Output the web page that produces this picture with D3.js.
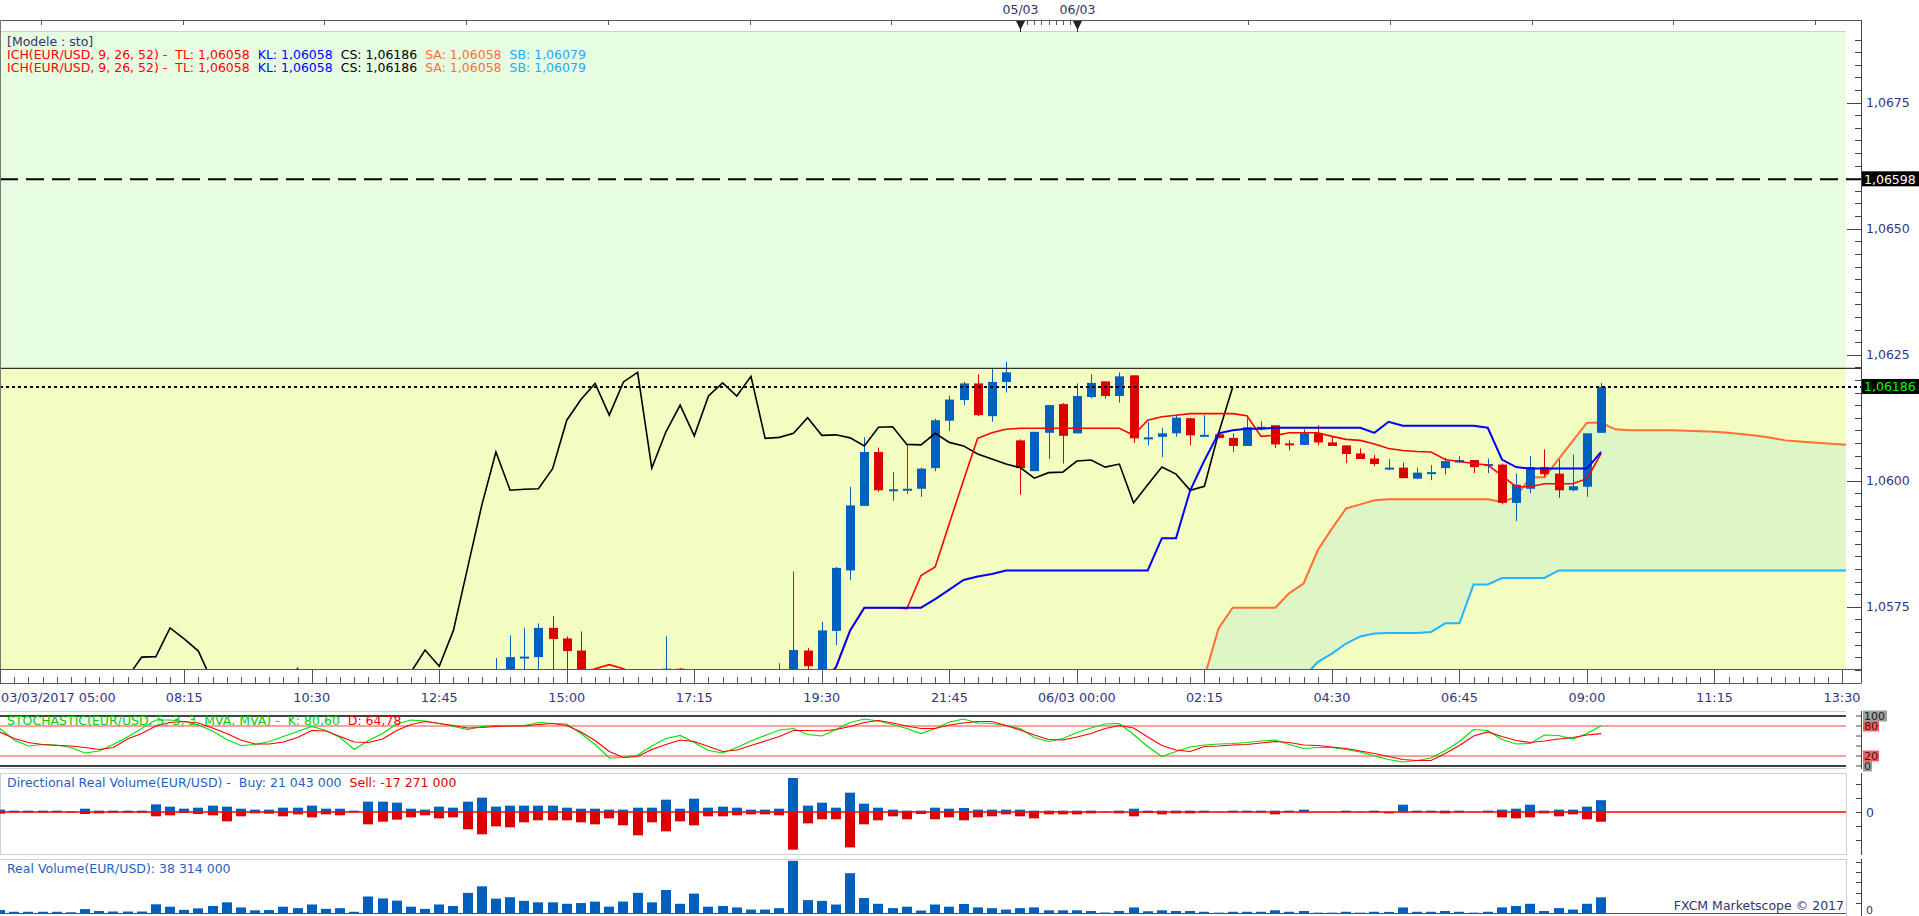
<!DOCTYPE html>
<html>
<head>
<meta charset="utf-8">
<script src="https://cdn.jsdelivr.net/npm/d3@7"></script>
<style>
  body { margin: 0; background: #fff; overflow: hidden; }
  svg { display: block; font-family: "DejaVu Sans", Verdana, sans-serif; }
  text { white-space: pre; }
</style>
</head>
<body>
<svg id="chart" width="1919" height="916"></svg>
<script>
// EUR/USD m15

// candles, bar index firstBar .. 113
const firstBar = 35;
const barOpen = [1.0556,1.0561,1.0565,1.0565,1.05708,1.05687,1.05663,1.05627,1.0555,1.0556,
  1.0553,1.0557,1.0559,1.05627,1.0558,1.0555,1.0558,1.0560,1.0557,1.0559,
  1.0561,1.0562,1.05663,1.0562,1.05702,1.05822,1.0595,1.06057,1.05982,1.05982,
  1.05984,1.06025,1.06119,1.0616,1.06193,1.06128,1.06196,1.0608,1.06019,1.06095,
  1.06152,1.06094,1.06166,1.06197,1.06168,1.06209,1.06085,1.06087,1.06094,1.06124,
  1.0609,1.06092,1.06085,1.06069,1.06106,1.0611,1.06074,1.06071,1.06094,1.06076,
  1.0607,1.06054,1.06044,1.06025,1.06026,1.06004,1.06016,1.06025,1.06036,1.06041,
  1.06032,1.06032,1.05956,1.05984,1.06027,1.06014,1.05981,1.05988,1.06095];
const barHigh = [1.05648,1.05693,1.05708,1.05717,1.05731,1.05691,1.05701,1.05628,1.0560,1.0561,
  1.0559,1.0561,1.05691,1.05628,1.0561,1.0560,1.0562,1.0562,1.0561,1.0562,
  1.05638,1.0582,1.05668,1.0572,1.05829,1.05988,1.06086,1.06066,1.06017,1.06072,
  1.06026,1.06123,1.06169,1.06196,1.06211,1.06223,1.06236,1.06082,1.06097,1.0615,
  1.06154,1.06193,1.06211,1.06197,1.06215,1.06209,1.06117,1.06105,1.0613,1.06125,
  1.0613,1.061,1.06094,1.06124,1.06118,1.0611,1.0608,1.06102,1.0611,1.06088,
  1.0607,1.06064,1.06051,1.06043,1.06036,1.06026,1.06031,1.06046,1.06049,1.06041,
  1.06044,1.06034,1.06014,1.06049,1.06062,1.06042,1.06052,1.06094,1.06194];
const barLow = [1.0554,1.0559,1.0560,1.0560,1.0560,1.0559,1.0556,1.0553,1.0550,1.0551,
  1.0549,1.0552,1.0555,1.0555,1.0553,1.0552,1.0554,1.0555,1.0554,1.0556,
  1.0558,1.0558,1.0559,1.0559,1.05674,1.05803,1.0595,1.05978,1.0596,1.05974,
  1.05968,1.06019,1.06099,1.0615,1.06128,1.06117,1.06175,1.05972,1.06019,1.06043,
  1.06034,1.06094,1.06163,1.06163,1.06155,1.06075,1.0607,1.06047,1.06087,1.0607,
  1.06088,1.06084,1.06057,1.06069,1.061,1.06065,1.0606,1.06071,1.0607,1.06069,
  1.06035,1.06043,1.06029,1.06021,1.06005,1.06003,1.06001,1.06012,1.06036,1.06015,
  1.06015,1.05953,1.0592,1.05975,1.06008,1.05966,1.05979,1.05968,1.06095];
const barClose = [1.0561,1.0565,1.05651,1.05708,1.05686,1.05662,1.0560,1.0555,1.0556,1.0553,
  1.0557,1.0559,1.05627,1.0558,1.0555,1.0558,1.0560,1.0557,1.0559,1.0561,
  1.0562,1.05664,1.05632,1.05703,1.05827,1.05951,1.06057,1.05981,1.05983,1.05984,
  1.06024,1.0612,1.06161,1.06193,1.0613,1.06196,1.06215,1.06025,1.06097,1.0615,
  1.06089,1.06168,1.06194,1.06168,1.06207,1.06084,1.06086,1.06094,1.06125,1.0609,
  1.06091,1.06085,1.06069,1.06106,1.06107,1.06072,1.06071,1.06094,1.06076,1.06069,
  1.06053,1.06043,1.06033,1.06026,1.06005,1.06016,1.06017,1.06039,1.06041,1.06027,
  1.06033,1.05956,1.05992,1.06027,1.06013,1.05981,1.05989,1.06094,1.06186];

// ichimoku lines (tenkan from bar 41, kijun from 57, senkou spans from 84, shifted)
const tenkanStart = 41;
const tenkan = [1.0561,1.05627,1.05635,1.05627,1.0561,1.0560,1.0559,1.0559,1.0558,1.0558,
  1.0558,1.0558,1.0559,1.0559,1.0560,1.0560,1.0557,1.0560,1.0563,1.05703,
  1.05748,1.05748,1.05748,1.05746,1.05812,1.05829,1.05915,1.06001,1.06084,1.06095,
  1.06102,1.06104,1.06104,1.06104,1.06104,1.06104,1.06104,1.06104,1.06104,1.0609,
  1.0612,1.06127,1.0613,1.06133,1.06133,1.06133,1.06133,1.06129,1.06088,1.0609,
  1.06095,1.06095,1.06095,1.06088,1.06082,1.0608,1.06073,1.06064,1.0606,1.06058,
  1.06057,1.06042,1.06038,1.06034,1.06031,1.0601,1.05988,1.05988,1.05994,1.05994,
  1.05994,1.06004,1.06054];
const kijunStart = 57;
const kijun = [1.0556,1.0560,1.0563,1.05703,1.05748,1.05748,1.05748,1.05748,1.05748,1.05765,
  1.05784,1.05803,1.0581,1.05815,1.05822,1.05822,1.05822,1.05822,1.05822,1.05822,
  1.05822,1.05822,1.05822,1.05822,1.05822,1.05886,1.05886,1.05981,1.0604,1.06094,
  1.061,1.06103,1.06103,1.06105,1.06105,1.06105,1.06105,1.06105,1.06105,1.06105,
  1.06095,1.06117,1.06109,1.06109,1.06109,1.06109,1.06109,1.06109,1.06105,1.06042,
  1.06027,1.06024,1.06024,1.06024,1.06024,1.06024,1.06057];
const spanStart = 84;
const senkouA = [1.0555,1.0561,1.05707,1.05748,1.05748,1.05748,1.05748,1.05777,1.05796,1.05862,
  1.05905,1.05945,1.05953,1.05961,1.05963,1.05963,1.05963,1.05963,1.05963,1.05963,
  1.05963,1.05963,1.05958,1.05968,1.06007,1.06007,1.06043,1.06079,1.06115,1.06115,
  1.06102,1.061,1.061,1.061,1.061,1.06099,1.06098,1.06097,1.06095,1.06092,
  1.06089,1.06085,1.0608,1.06078,1.06076,1.06074,1.06072,1.0607];
const senkouB = [1.0553,1.0554,1.0555,1.0556,1.0557,1.0558,1.0559,1.0560,1.0561,1.0564,
  1.05657,1.05677,1.05691,1.05697,1.05698,1.05698,1.05698,1.057,1.05717,1.05717,
  1.05794,1.05794,1.05807,1.05807,1.05807,1.05807,1.05822,1.05822,1.05822,1.05822,
  1.05822,1.05822,1.05822,1.05822,1.05822,1.05822,1.05822,1.05822,1.05822,1.05822,
  1.05822,1.05822,1.05822,1.05822,1.05822,1.05822,1.05822,1.05822];
const chikouShift = 26;

// model levels
const levelZone = 1.06223;   // border green / yellow zone
const levelDashed = 1.06598;
const lastPrice = 1.06186;

// stochastic 5,3,3 (bars 0..113)
const stochK = [75,52,40,43,42,37,26,30,43,58, 75,92,92,89,82,70,53,41,43,49,
  59,69,79,71,57,33,51,65,84,92, 90,85,79,73,79,81,80,81,87,85,
  84,65,43,16,17,22,40,55,61,47, 31,26,37,50,61,72,75,63,60,73,
  87,94,90,83,75,65,75,88,94,86, 85,81,75,57,49,55,67,76,84,85,
  63,39,19,29,38,42,44,45,47,50, 52,43,35,37,37,33,28,20,13,8,
  11,16,31,49,73,71,53,44,45,62, 61,54,65,80.6];
const stochD = [68,55,47,43,41,40,37,33,37,54, 65,80,87,89,86,76,65,52,44,44,
  48,57,71,70,59,48,47,54,71,83, 89,85,81,76,77,79,80,80,83,85,
  81,68,51,29,17,19,33,43,52,49, 39,29,32,41,50,59,71,71,70,73,
  79,87,91,86,80,75,75,82,86,89, 89,81,72,62,53,52,58,65,75,81,
  76,58,41,32,29,39,40,42,43,46, 49,47,42,41,38,35,30,25,19,13,
  11,11,25,41,60,68,59,51,47,50, 54,57,62,64.78];

// directional real volume, millions (bars 0..113)
const buyVol = [4.2,2.4,2.4,2.4,2.4,1.2,5.9,2.4,2.4,2.4, 2.4,13.6,9.5,5.9,7.7,11.3,9.5,5.9,4.2,4.2,
  7.7,7.7,11.3,5.9,5.9,2.4,18.4,18.4,16.6,5.9, 4.2,9.5,7.7,18.4,25.5,9.5,11.3,11.3,11.3,11.3,
  7.7,5.9,5.9,4.2,4.2,7.7,7.7,21.9,5.9,23.7, 7.7,9.5,7.7,4.2,4.2,5.9,60.5,11.3,16.6,7.7,
  34.4,14.8,7.7,4.2,2.4,2.4,7.7,5.9,7.1,4.2, 4.2,4.2,4.2,2.4,2.4,2.4,2.4,2.4,0.6,2.4,
  5.9,2.4,2.4,2.4,2.4,2.4,0.6,2.4,2.4,2.4, 2.4,2.4,4.2,0.6,0.6,2.4,0.6,2.4,0.3,13.0,
  2.4,2.4,2.4,2.4,0.6,2.4,4.2,5.9,13.0,2.4, 4.2,4.2,9.5,21.0];
const sellVol = [3.0,0.6,0.6,0.6,0.6,0.6,3.6,2.4,1.2,1.2, 1.2,7.7,5.9,1.8,3.6,5.9,16.6,7.7,2.4,3.0,
  7.7,4.2,9.5,4.2,5.9,0.6,21.9,17.2,13.6,9.5, 5.9,11.3,9.5,30.8,39.7,25.5,27.3,18.4,14.8,14.8,
  14.8,18.4,21.9,11.3,23.7,41.5,18.4,34.4,16.6,23.7, 7.7,7.7,5.9,4.2,4.2,5.9,67.0,20.2,13.0,13.0,
  62.9,21.9,14.8,7.7,13.0,3.6,13.0,9.5,14.8,9.5, 7.7,4.2,7.7,11.3,4.2,4.2,4.2,2.4,0.6,2.4,
  7.7,1.8,4.2,2.4,2.4,0.6,0.3,0.6,0.6,0.6, 4.2,0.6,0.6,0.3,0.3,0.6,0.3,0.6,2.4,0.6,
  0.6,0.6,2.4,0.6,0.3,0.6,9.5,11.3,9.5,2.4, 7.7,4.2,13.0,17.3];

// time axis
const tickBars = [0,13,22,31,40,49,58,67,76,85,94,103,112,121,130];
const tickLabels = ["03/03/2017 05:00","08:15","10:30","12:45","15:00","17:15","19:30",
  "21:45","06/03 00:00","02:15","04:30","06:45","09:00","11:15","13:30"];
const dayBars = [72, 76];
const dayLabels = ["05/03", "06/03"];
const topTickBars = [2.9,12.9,22.9,32.9,42.9,52.9,62.9,88.1,98.1,108.1,118.1,128.1];
const priceLabels = [1.0575, 1.06, 1.0625, 1.065, 1.0675];

// ---------------------------------------------------------------
const plotR = 1846, axisX = 1861;
const mainTop = 32, mainBot = 669.5;
const blue = "#0060c0", red = "#dd0000", axisText = "#333388";
const titleSize = 12.5;

const svg = d3.select("#chart");
const x = d3.scaleLinear().domain([0, 130]).range([0, 1842]);
const y = d3.scaleLinear().domain([1.06, 1.0625]).range([480.7, 354.7]);
const yStoch = d3.scaleLinear().domain([0, 100]).range([766, 716]);
const yDir = d3.scaleLinear().domain([-72, 72]).range([852.5, 771.5]);
const yReal = d3.scaleLinear().domain([0, 132]).range([913, 859]);
const fmtPrice = d => d3.format(".4f")(d).replace(".", ",");
const fmtPrice5 = d => d3.format(".5f")(d).replace(".", ",");

const defs = svg.append("defs");
defs.append("clipPath").attr("id", "clipMain")
  .append("rect").attr("x", 0).attr("y", mainTop).attr("width", plotR).attr("height", mainBot - mainTop);

// ---- main price panel ----
const main = svg.append("g").attr("clip-path", "url(#clipMain)");
main.append("rect").attr("x", 0).attr("y", mainTop).attr("width", plotR)
  .attr("height", y(levelZone) - mainTop).attr("fill", "#e6fde2");
main.append("rect").attr("x", 0).attr("y", y(levelZone)).attr("width", plotR)
  .attr("height", mainBot - y(levelZone)).attr("fill", "#f3fdc1");

const spans = senkouA.map((a, k) => ({ i: spanStart + k, a: a, b: senkouB[k] }));
main.append("path").datum(spans)
  .attr("fill", "#def6c6")
  .attr("d", d3.area().x(d => x(d.i)).y0(d => y(d.b)).y1(d => y(d.a)));

const line = d3.line().x(d => x(d.i)).y(d => y(d.v));
const series = (arr, start) => arr.map((v, k) => ({ i: start + k, v: v }));

main.append("path").datum(series(senkouB, spanStart))
  .attr("fill", "none").attr("stroke", "#22b4ff").attr("stroke-width", 2).attr("d", line);
main.append("path").datum(series(senkouA, spanStart))
  .attr("fill", "none").attr("stroke", "#ff6f30").attr("stroke-width", 2).attr("d", line);

// candles
const bars = barOpen.map((o, k) => ({
  i: firstBar + k, o: o, h: barHigh[k], l: barLow[k], c: barClose[k]
}));
const cg = main.append("g");
cg.selectAll("line.wick").data(bars).enter().append("line")
  .attr("x1", d => Math.round(x(d.i)) + 0.5).attr("x2", d => Math.round(x(d.i)) + 0.5)
  .attr("y1", d => y(d.h)).attr("y2", d => y(d.l))
  .attr("stroke", d => d.c >= d.o ? blue : red).attr("stroke-width", 1);
cg.selectAll("rect.body").data(bars).enter().append("rect")
  .attr("x", d => Math.round(x(d.i)) - 4).attr("width", 9)
  .attr("y", d => Math.min(y(d.o), y(d.c)))
  .attr("height", d => Math.max(2, Math.abs(y(d.o) - y(d.c))))
  .attr("fill", d => d.c >= d.o ? blue : red);

// chikou span = close drawn 26 bars back
main.append("path").datum(bars.map(d => ({ i: d.i - chikouShift, v: d.c })))
  .attr("fill", "none").attr("stroke", "#000").attr("stroke-width", 1.6).attr("d", line);
main.append("path").datum(series(tenkan, tenkanStart))
  .attr("fill", "none").attr("stroke", "#ff0000").attr("stroke-width", 1.6).attr("d", line);
main.append("path").datum(series(kijun, kijunStart))
  .attr("fill", "none").attr("stroke", "#0000ff").attr("stroke-width", 2).attr("d", line);

// horizontal model lines
svg.append("line").attr("x1", 0).attr("x2", axisX).attr("y1", y(levelZone)).attr("y2", y(levelZone))
  .attr("stroke", "#000").attr("stroke-width", 1);
svg.append("line").attr("x1", 0).attr("x2", axisX).attr("y1", y(levelDashed)).attr("y2", y(levelDashed))
  .attr("stroke", "#000").attr("stroke-width", 2).attr("stroke-dasharray", "18,8");
svg.append("line").attr("x1", 0).attr("x2", axisX).attr("y1", y(lastPrice)).attr("y2", y(lastPrice))
  .attr("stroke", "#000").attr("stroke-width", 2).attr("stroke-dasharray", "3,3");

// legend
const leg = svg.append("g").attr("font-size", titleSize);
leg.append("text").attr("x", 7).attr("y", 45.5).attr("fill", "#333366").text("[Modele : sto]");
[59, 72].forEach(ty => {
  const t = leg.append("text").attr("x", 7).attr("y", ty);
  t.append("tspan").attr("fill", "#ff0000").text("ICH(EUR/USD, 9, 26, 52) -  TL: 1,06058  ");
  t.append("tspan").attr("fill", "#0000ff").text("KL: 1,06058  ");
  t.append("tspan").attr("fill", "#000").text("CS: 1,06186  ");
  t.append("tspan").attr("fill", "#ff6f30").text("SA: 1,06058  ");
  t.append("tspan").attr("fill", "#22aaff").text("SB: 1,06079");
});

// top strip
svg.append("line").attr("x1", 0).attr("x2", axisX).attr("y1", 20.5).attr("y2", 20.5).attr("stroke", "#555");
svg.append("line").attr("x1", 0).attr("x2", plotR).attr("y1", mainTop - 0.5).attr("y2", mainTop - 0.5).attr("stroke", "#c8d0e0");
svg.append("line").attr("x1", 0.5).attr("x2", 0.5).attr("y1", 20).attr("y2", 683).attr("stroke", "#777");
svg.selectAll("line.toptick").data(topTickBars).enter().append("line")
  .attr("x1", d => Math.round(x(d)) + 0.5).attr("x2", d => Math.round(x(d)) + 0.5)
  .attr("y1", 20).attr("y2", 25).attr("stroke", "#555");
svg.selectAll("line.daytick").data(d3.range(dayBars[0] + 0.5, dayBars[1], 0.5)).enter().append("line")
  .attr("x1", d => Math.round(x(d)) + 0.5).attr("x2", d => Math.round(x(d)) + 0.5)
  .attr("y1", 20).attr("y2", 25).attr("stroke", "#555");
dayBars.forEach((b, k) => {
  const cx = Math.round(x(b)) + 0.5;
  svg.append("path").attr("d", `M${cx - 4.5},21 L${cx + 4.5},21 L${cx},30 Z`).attr("fill", "#222");
  svg.append("line").attr("x1", cx).attr("x2", cx).attr("y1", 28).attr("y2", 32).attr("stroke", "#222");
  svg.append("text").attr("x", cx).attr("y", 14).attr("text-anchor", "middle")
    .attr("font-size", 12.5).attr("fill", "#333366").text(dayLabels[k]);
});

// time axis band
svg.append("line").attr("x1", 0).attr("x2", axisX).attr("y1", 669.5).attr("y2", 669.5).attr("stroke", "#555");
svg.append("line").attr("x1", 0).attr("x2", axisX).attr("y1", 683.5).attr("y2", 683.5).attr("stroke", "#555");
svg.selectAll("line.minor").data(d3.range(0, 131)).enter().append("line")
  .attr("x1", d => Math.round(x(d)) + 0.5).attr("x2", d => Math.round(x(d)) + 0.5)
  .attr("y1", 677).attr("y2", 683).attr("stroke", "#555");
svg.selectAll("line.major").data(tickBars).enter().append("line")
  .attr("x1", d => Math.round(x(d)) + 0.5).attr("x2", d => Math.round(x(d)) + 0.5)
  .attr("y1", 670).attr("y2", 683).attr("stroke", "#555");
svg.selectAll("text.tick").data(tickBars).enter().append("text")
  .attr("x", (d, k) => k === 0 ? 1 : x(d))
  .attr("y", 701.5).attr("text-anchor", (d, k) => k === 0 ? "start" : "middle")
  .attr("font-size", 12.8).attr("fill", axisText).text((d, k) => tickLabels[k]);

// right price axis
svg.append("line").attr("x1", axisX + 0.5).attr("x2", axisX + 0.5).attr("y1", 20).attr("y2", 683.5).attr("stroke", "#444");
const priceTicks = d3.range(4225, 4276).map(k => ({ p: k * 0.00025, major: k % 10 === 0 }));
svg.selectAll("line.ptick").data(priceTicks).enter().append("line")
  .attr("x1", d => d.major ? axisX - 14 : axisX - 6).attr("x2", axisX)
  .attr("y1", d => Math.round(y(d.p)) + 0.5).attr("y2", d => Math.round(y(d.p)) + 0.5)
  .attr("stroke", "#444");
svg.selectAll("text.plabel").data(priceLabels).enter().append("text")
  .attr("x", axisX + 5).attr("y", d => y(d) + 4.5)
  .attr("font-size", 12.5).attr("fill", axisText).text(fmtPrice);
[[levelDashed, "#fff"], [lastPrice, "#00ff00"]].forEach(([p, col]) => {
  svg.append("rect").attr("x", axisX + 1).attr("y", y(p) - 8).attr("width", 1919 - axisX).attr("height", 15).attr("fill", "#000");
  svg.append("text").attr("x", axisX + 3).attr("y", y(p) + 4.5).attr("font-size", 12.5).attr("fill", col).text(fmtPrice5(p));
});

// ---- stochastic panel ----
const panelLine = "#c8d0dc";
[711.5, 768.5].forEach(py => svg.append("line").attr("x1", 0).attr("x2", plotR).attr("y1", py).attr("y2", py).attr("stroke", panelLine));
[0, 100].forEach(v => svg.append("line").attr("x1", 0).attr("x2", plotR).attr("y1", yStoch(v)).attr("y2", yStoch(v)).attr("stroke", "#000").attr("stroke-width", 1.5));
[20, 80].forEach(v => svg.append("line").attr("x1", 0).attr("x2", plotR).attr("y1", yStoch(v)).attr("y2", yStoch(v)).attr("stroke", "#ff4040"));
const sLine = d3.line().x((d, k) => x(k)).y(d => yStoch(d));
svg.append("path").datum(stochK).attr("fill", "none").attr("stroke", "#00e000").attr("stroke-width", 1.2).attr("d", sLine);
svg.append("path").datum(stochD).attr("fill", "none").attr("stroke", "#ff0000").attr("stroke-width", 1.2).attr("d", sLine);
const st = svg.append("text").attr("x", 7).attr("y", 724.5).attr("font-size", titleSize);
st.append("tspan").attr("fill", "#00cc00").text("STOCHASTIC(EUR/USD, 5, 3, 3, MVA, MVA) -  K: 80,60  ");
st.append("tspan").attr("fill", "#ff0000").text("D: 64,78");
svg.append("line").attr("x1", axisX + 0.5).attr("x2", axisX + 0.5).attr("y1", 711).attr("y2", 769).attr("stroke", "#444");
svg.selectAll("line.stick").data([0, 20, 40, 60, 80, 100]).enter().append("line")
  .attr("x1", axisX - 5).attr("x2", axisX).attr("y1", d => yStoch(d)).attr("y2", d => yStoch(d)).attr("stroke", "#444");
[[80, "#ff5c5c"], [100, "#a0a0a0"], [0, "#a0a0a0"], [20, "#ff5c5c"]].forEach(([v, bg]) => {
  const w = v === 100 ? 24 : (v === 0 ? 9 : 16);
  svg.append("rect").attr("x", axisX + 2).attr("y", yStoch(v) - 5.5).attr("width", w).attr("height", 11).attr("fill", bg);
  svg.append("text").attr("x", axisX + 3).attr("y", yStoch(v) + 4).attr("font-size", 11).attr("fill", "#222").text(v);
});

// ---- directional real volume ----
svg.append("rect").attr("x", 0.5).attr("y", 773.5).attr("width", plotR).attr("height", 81).attr("fill", "none").attr("stroke", panelLine);
const barW = 10;
svg.selectAll("rect.buy").data(buyVol).enter().append("rect")
  .attr("x", (d, k) => Math.round(x(k)) - barW / 2).attr("width", barW)
  .attr("y", d => yDir(d)).attr("height", d => yDir(0) - yDir(d)).attr("fill", blue);
svg.selectAll("rect.sell").data(sellVol).enter().append("rect")
  .attr("x", (d, k) => Math.round(x(k)) - barW / 2).attr("width", barW)
  .attr("y", yDir(0)).attr("height", d => yDir(-d) - yDir(0)).attr("fill", red);
svg.append("line").attr("x1", 0).attr("x2", plotR).attr("y1", yDir(0)).attr("y2", yDir(0)).attr("stroke", "#ff0000").attr("stroke-width", 1.5);
const dt = svg.append("text").attr("x", 7).attr("y", 786.5).attr("font-size", titleSize);
dt.append("tspan").attr("fill", "#1f5fbf").text("Directional Real Volume(EUR/USD) -  Buy: 21 043 000  ");
dt.append("tspan").attr("fill", "#dd0000").text("Sell: -17 271 000");
svg.append("line").attr("x1", axisX + 0.5).attr("x2", axisX + 0.5).attr("y1", 773).attr("y2", 855).attr("stroke", "#444");
svg.selectAll("line.dtick").data([-50, -25, 0, 25, 50]).enter().append("line")
  .attr("x1", axisX - 5).attr("x2", axisX).attr("y1", d => Math.round(yDir(d)) + 0.5).attr("y2", d => Math.round(yDir(d)) + 0.5).attr("stroke", "#444");
svg.append("text").attr("x", axisX + 5).attr("y", yDir(0) + 4.5).attr("font-size", 12.5).attr("fill", axisText).text("0");

// ---- real volume ----
svg.append("line").attr("x1", 0).attr("x2", plotR).attr("y1", 859.5).attr("y2", 859.5).attr("stroke", panelLine);
svg.append("line").attr("x1", plotR + 0.5).attr("x2", plotR + 0.5).attr("y1", 859).attr("y2", 916).attr("stroke", panelLine);
svg.selectAll("rect.real").data(buyVol).enter().append("rect")
  .attr("x", (d, k) => Math.round(x(k)) - barW / 2).attr("width", barW)
  .attr("y", (d, k) => yReal(d + sellVol[k])).attr("height", (d, k) => yReal(0) - yReal(d + sellVol[k]))
  .attr("fill", blue);
svg.append("line").attr("x1", 0).attr("x2", plotR).attr("y1", 913.5).attr("y2", 913.5).attr("stroke", blue);
svg.append("text").attr("x", 7).attr("y", 872.5).attr("font-size", titleSize).attr("fill", "#1f5fbf").text("Real Volume(EUR/USD): 38 314 000");
svg.append("line").attr("x1", axisX + 0.5).attr("x2", axisX + 0.5).attr("y1", 859).attr("y2", 916).attr("stroke", "#444");
svg.selectAll("line.rtick").data([25, 50, 75, 100, 125]).enter().append("line")
  .attr("x1", axisX - 5).attr("x2", axisX).attr("y1", d => Math.round(yReal(d)) + 0.5).attr("y2", d => Math.round(yReal(d)) + 0.5).attr("stroke", "#444");
svg.append("text").attr("x", axisX + 5).attr("y", 914).attr("font-size", 11).attr("fill", axisText).text("0");

const creditG = svg.append("g");
const credit = creditG.append("text").attr("x", plotR - 2).attr("y", 910).attr("text-anchor", "end")
  .attr("font-size", 12.5).attr("fill", "#333366").text("FXCM Marketscope © 2017");
const bb = credit.node().getBBox();
creditG.insert("rect", "text").attr("x", bb.x - 2).attr("y", bb.y).attr("width", bb.width + 4)
  .attr("height", bb.height).attr("fill", "#fff");
</script>
</body>
</html>
